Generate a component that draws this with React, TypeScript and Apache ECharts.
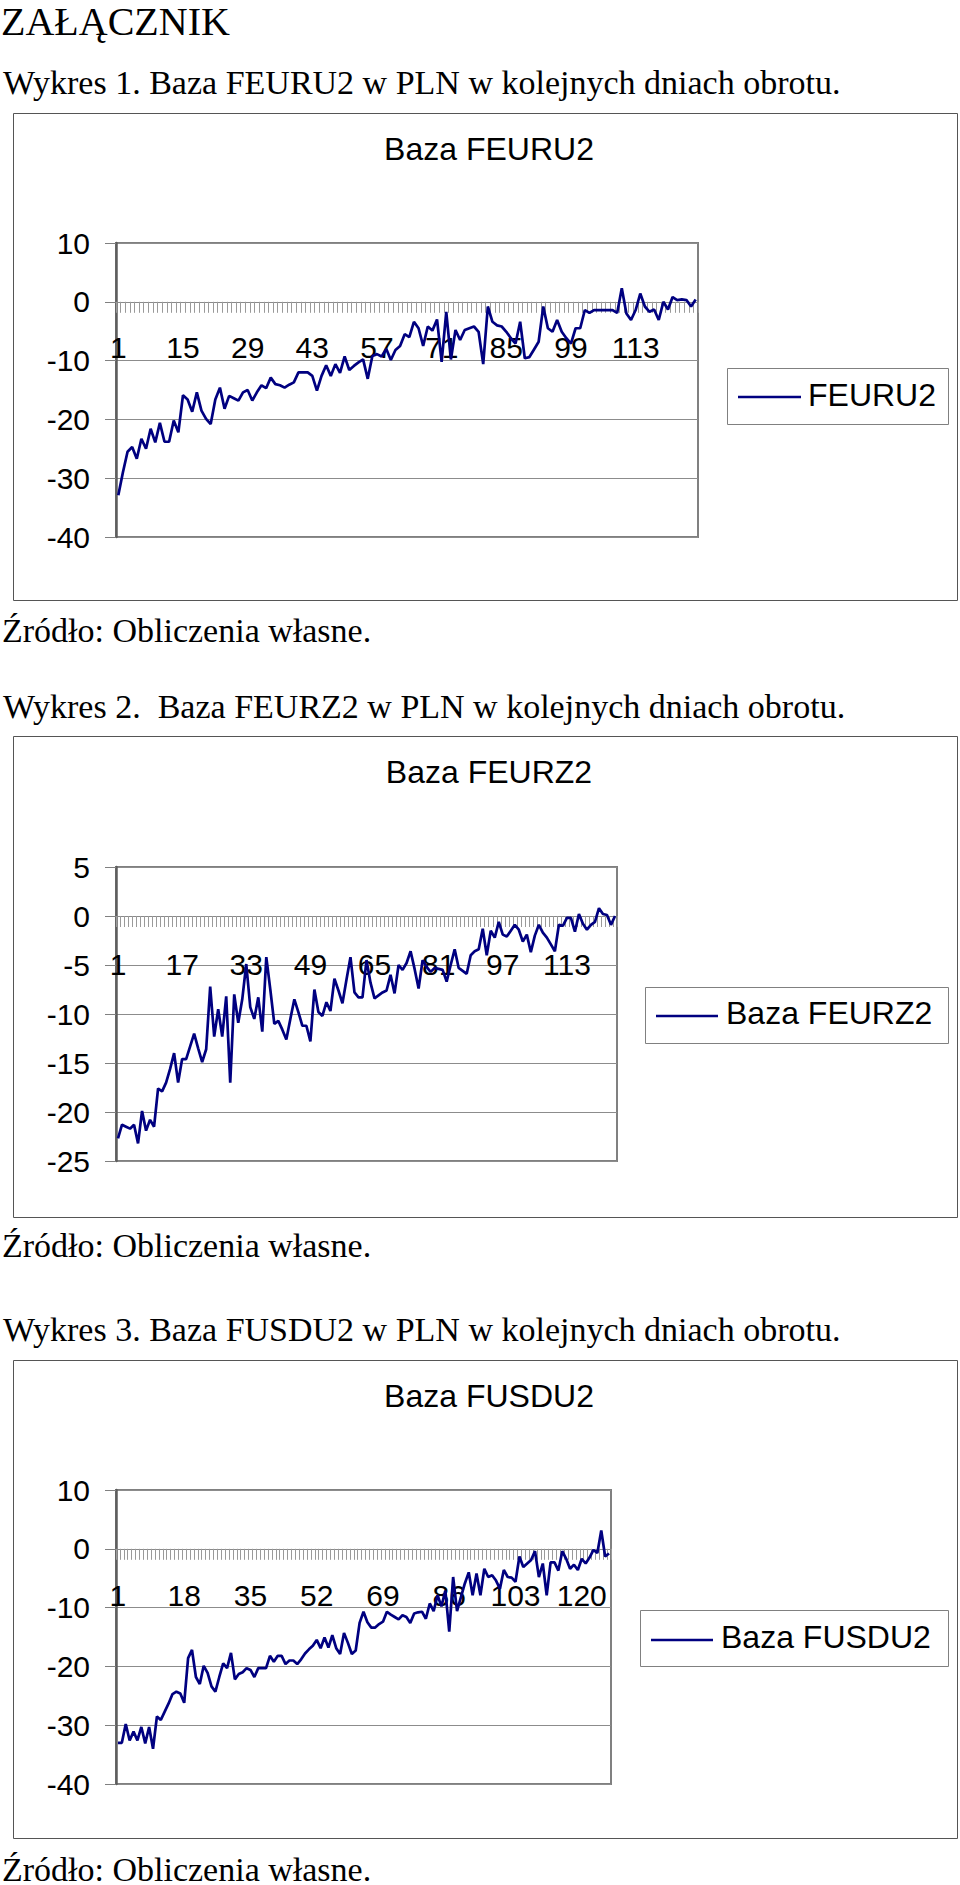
import React, { useEffect, useRef } from "react";
import * as echarts from "echarts";

// ---- data ----
const FEURU2 = [
  -32.9, -29.0, -25.5, -24.7, -26.7, -23.3, -25.0, -21.6, -23.9, -20.6,
  -23.8, -23.8, -20.2, -22.2, -15.9, -16.6, -18.7, -15.4, -18.5, -19.9,
  -20.8, -16.6, -14.6, -18.2, -16.0, -16.4, -16.8, -15.4, -15.0, -16.8,
  -15.4, -14.2, -14.7, -12.9, -14.0, -14.2, -14.6, -14.1, -13.7, -12.0,
  -12.0, -12.0, -12.6, -15.1, -12.6, -10.8, -12.6, -10.6, -12.1, -9.3,
  -11.6, -10.9, -10.3, -9.8, -13.1, -9.2, -8.9, -9.3, -8.0, -9.9,
  -8.2, -7.5, -5.5, -6.0, -3.4, -4.5, -7.5, -4.2, -4.9, -3.0,
  -10.2, -1.7, -9.8, -4.8, -6.5, -4.8, -4.5, -4.2, -5.1, -10.6,
  -0.8, -3.4, -4.0, -4.2, -5.1, -6.2, -7.1, -3.4, -9.6, -9.4,
  -8.1, -6.8, -0.8, -4.5, -5.1, -3.1, -5.1, -6.2, -7.1, -4.5,
  -4.5, -1.4, -1.9, -1.4, -1.4, -1.4, -1.4, -1.4, -1.9, 2.3,
  -2.0, -3.1, -1.4, 1.4, -0.8, -1.7, -1.3, -3.1, 0.0, -1.3,
  0.8, 0.3, 0.4, 0.3, -0.8, 0.4,
];

const FEURZ2 = [
  -22.7, -21.3, -21.5, -21.7, -21.3, -23.2, -19.9, -21.9, -20.8, -21.5,
  -17.6, -17.9, -17.0, -15.6, -14.0, -17.0, -14.6, -14.6, -13.3, -12.0,
  -13.5, -14.9, -13.6, -7.2, -12.3, -9.5, -12.3, -8.2, -17.0, -8.0,
  -10.9, -8.5, -4.9, -9.3, -10.5, -8.3, -11.8, -4.2, -7.5, -11.0,
  -10.7, -11.6, -12.6, -10.5, -8.5, -9.8, -11.2, -11.2, -12.8, -7.5,
  -9.8, -10.2, -8.8, -9.7, -6.4, -7.6, -8.9, -6.5, -4.2, -7.8,
  -8.3, -8.3, -4.5, -6.8, -8.4, -8.1, -7.8, -7.6, -6.0, -7.9,
  -5.0, -5.5, -4.8, -3.6, -5.4, -7.4, -4.5, -5.2, -5.7, -5.3,
  -5.4, -5.5, -6.7, -5.0, -3.4, -5.3, -5.6, -5.9, -4.0, -3.6,
  -3.4, -1.3, -4.0, -1.5, -2.2, -0.6, -1.9, -2.1, -1.5, -0.9,
  -1.4, -2.6, -1.9, -3.7, -2.0, -0.9, -1.7, -2.2, -2.9, -3.6,
  -0.9, -1.0, -0.2, -0.2, -1.6, 0.2, -0.8, -1.4, -0.9, -0.6,
  0.8, 0.2, 0.1, -0.9, 0.0,
];

const FUSDU2 = [
  -33.0, -33.0, -29.8, -32.6, -31.1, -32.6, -30.3, -33.1, -30.3, -34.0,
  -28.5, -29.1, -27.7, -26.3, -24.7, -24.3, -24.6, -26.2, -18.6, -17.2,
  -21.8, -23.0, -19.9, -21.1, -23.4, -24.3, -21.8, -19.5, -20.3, -17.7,
  -22.2, -21.3, -21.0, -20.3, -20.6, -21.8, -20.3, -20.3, -20.3, -18.2,
  -19.2, -18.2, -18.2, -19.6, -19.0, -19.0, -19.6, -18.8, -17.8, -17.1,
  -16.5, -15.5, -16.9, -15.1, -16.8, -14.7, -16.9, -17.9, -14.3, -16.0,
  -17.9, -17.3, -12.6, -10.7, -12.5, -13.4, -13.4, -12.8, -12.4, -10.7,
  -11.2, -11.6, -12.0, -11.3, -11.6, -12.6, -11.0, -10.8, -10.7, -11.9,
  -9.3, -10.6, -7.9, -9.8, -7.1, -14.1, -4.8, -10.6, -8.2, -5.9,
  -4.0, -7.9, -4.2, -7.9, -3.4, -4.8, -4.5, -5.4, -6.8, -3.6,
  -4.8, -4.9, -5.6, -1.3, -3.1, -2.5, -1.9, -0.4, -4.8, -2.5,
  -7.9, -2.3, -2.3, -3.7, -0.4, -1.7, -3.4, -2.7, -3.6, -1.7,
  -2.5, -1.5, -0.2, -0.7, 3.1, -1.3, -0.8,
];

const HEADINGS = [
  "Wykres 1. Baza FEURU2 w PLN w kolejnych dniach obrotu.",
  "Wykres 2.  Baza FEURZ2 w PLN w kolejnych dniach obrotu.",
  "Wykres 3. Baza FUSDU2 w PLN w kolejnych dniach obrotu.",
];
const TITLES = ["Baza FEURU2", "Baza FEURZ2", "Baza FUSDU2"];
const LEGENDS = ["FEURU2", "Baza FEURZ2", "Baza FUSDU2"];
const SOURCE = "Źródło: Obliczenia własne.";
const TOP_HEADING = "ZAŁĄCZNIK";

const SERIES = [FEURU2, FEURZ2, FUSDU2];
const Y_MIN = [-40, -25, -40];
const Y_MAX = [10, 5, 10];
const Y_STEP = [10, 5, 10];
const LABEL_EVERY = [13, 15, 16];

// ---- layout ----
const SERIF = '"Liberation Serif", "Times New Roman", serif';
const SANS = '"Liberation Sans", Arial, sans-serif';
const NAVY = "#000080";

const PANELS = [
  {
    grid: { left: 116, top: 243, width: 582, height: 294 },
    box: { x: 13.5, y: 113.5, w: 944, h: 487 },
    headingY: 82.5,
    titleY: 149,
    sourceY: 630,
    legendBox: { x: 727.5, y: 368.5, w: 221, h: 56 },
    legendLine: { x1: 738, x2: 801, y: 397 },
    legendTextX: 808,
    legendTextY: 395,
    labelMargin: 31,
  },
  {
    grid: { left: 116, top: 867, width: 501, height: 294 },
    box: { x: 13.5, y: 736.5, w: 944, h: 481 },
    headingY: 706,
    titleY: 772,
    sourceY: 1245,
    legendBox: { x: 645.5, y: 987.5, w: 303, h: 56 },
    legendLine: { x1: 656, x2: 718, y: 1016 },
    legendTextX: 726,
    legendTextY: 1013,
    labelMargin: 33,
  },
  {
    grid: { left: 116, top: 1490, width: 495, height: 294 },
    box: { x: 13.5, y: 1360.5, w: 944, h: 478 },
    headingY: 1329,
    titleY: 1396,
    sourceY: 1869,
    legendBox: { x: 640.5, y: 1610.5, w: 308, h: 56 },
    legendLine: { x1: 651, x2: 713, y: 1640 },
    legendTextX: 721,
    legendTextY: 1637,
    labelMargin: 32,
  },
];

function serifText(text: string, x: number, y: number, size: number) {
  return {
    type: "text",
    x,
    y,
    silent: true,
    style: {
      text,
      fill: "#000",
      fontSize: size,
      fontFamily: SERIF,
      textAlign: "left",
      align: "left",
      textVerticalAlign: "middle",
      verticalAlign: "middle",
    },
  };
}

function buildOption() {
  const grid: any[] = [];
  const xAxis: any[] = [];
  const yAxis: any[] = [];
  const series: any[] = [];
  const graphic: any[] = [];

  graphic.push(serifText(TOP_HEADING, 1, 21, 40));

  PANELS.forEach((p, i) => {
    const data = SERIES[i];
    const cats = data.map((_, k) => String(k + 1));
    // the category axis crosses the value axis at 0: shift it up from the grid bottom
    const zeroOffset = -(p.grid.height * (0 - Y_MIN[i])) / (Y_MAX[i] - Y_MIN[i]);

    grid.push({
      ...p.grid,
      show: true,
      borderColor: "#808080",
      borderWidth: 2,
      backgroundColor: "#fff",
      containLabel: false,
    });

    xAxis.push({
      type: "category",
      gridIndex: i,
      position: "bottom",
      offset: zeroOffset,
      data: cats,
      boundaryGap: true,
      axisLine: { show: true, onZero: false, lineStyle: { color: "#8a8a8a", width: 1 } },
      axisTick: { show: true, interval: 0, length: 11, inside: false, lineStyle: { color: "#9a9a9a", width: 1 } },
      axisLabel: {
        interval: LABEL_EVERY[i],
        margin: p.labelMargin,
        fontSize: 30,
        fontFamily: SANS,
        color: "#000",
        hideOverlap: false,
      },
      splitLine: { show: false },
      z: 3,
    });

    yAxis.push({
      type: "value",
      gridIndex: i,
      min: Y_MIN[i],
      max: Y_MAX[i],
      interval: Y_STEP[i],
      axisLine: { show: true, lineStyle: { color: "#5e5e5e", width: 2.5 } },
      axisTick: { show: true, length: 11, inside: false, lineStyle: { color: "#808080", width: 1 } },
      axisLabel: { margin: 26, fontSize: 30, fontFamily: SANS, color: "#000" },
      splitLine: { show: true, lineStyle: { color: "#8c8c8c", width: 1 } },
    });

    series.push({
      type: "line",
      name: LEGENDS[i],
      xAxisIndex: i,
      yAxisIndex: i,
      data,
      symbol: "none",
      lineStyle: { color: NAVY, width: 2.7 },
      itemStyle: { color: NAVY },
      z: 5,
    });

    // heading above the chart box
    graphic.push(serifText(HEADINGS[i], 3, p.headingY, 34));
    // chart box
    graphic.push({
      type: "rect",
      silent: true,
      z: -10,
      shape: { x: p.box.x, y: p.box.y, width: p.box.w, height: p.box.h },
      style: { fill: "none", stroke: "#555", lineWidth: 1 },
    });
    // chart title
    graphic.push({
      type: "text",
      x: 489,
      y: p.titleY,
      silent: true,
      style: {
        text: TITLES[i],
        fill: "#000",
        fontSize: 32,
        fontFamily: SANS,
        textAlign: "center",
        align: "center",
        textVerticalAlign: "middle",
        verticalAlign: "middle",
      },
    });
    // legend
    graphic.push({
      type: "rect",
      silent: true,
      shape: { x: p.legendBox.x, y: p.legendBox.y, width: p.legendBox.w, height: p.legendBox.h },
      style: { fill: "#fff", stroke: "#808080", lineWidth: 1 },
    });
    graphic.push({
      type: "line",
      silent: true,
      shape: { x1: p.legendLine.x1, y1: p.legendLine.y, x2: p.legendLine.x2, y2: p.legendLine.y },
      style: { stroke: NAVY, lineWidth: 2.7 },
    });
    graphic.push({
      type: "text",
      x: p.legendTextX,
      y: p.legendTextY,
      silent: true,
      style: {
        text: LEGENDS[i],
        fill: "#000",
        fontSize: 32,
        fontFamily: SANS,
        textAlign: "left",
        align: "left",
        textVerticalAlign: "middle",
        verticalAlign: "middle",
      },
    });
    // source note
    graphic.push(serifText(SOURCE, 2, p.sourceY, 34));
  });

  return {
    animation: false,
    backgroundColor: "#fff",
    textStyle: { fontFamily: SANS },
    grid,
    xAxis,
    yAxis,
    series,
    graphic: { elements: graphic },
  };
}

export default function App() {
  const ref = useRef<HTMLDivElement | null>(null);

  useEffect(() => {
    if (!ref.current) return;
    const chart = echarts.init(ref.current, null, { renderer: "svg" });
    chart.setOption(buildOption() as any);
    return () => {
      chart.dispose();
    };
  }, []);

  return (
    <div
      ref={ref}
      style={{
        position: "absolute",
        left: 0,
        top: 0,
        width: 960,
        height: 1885,
        background: "#fff",
      }}
    />
  );
}
